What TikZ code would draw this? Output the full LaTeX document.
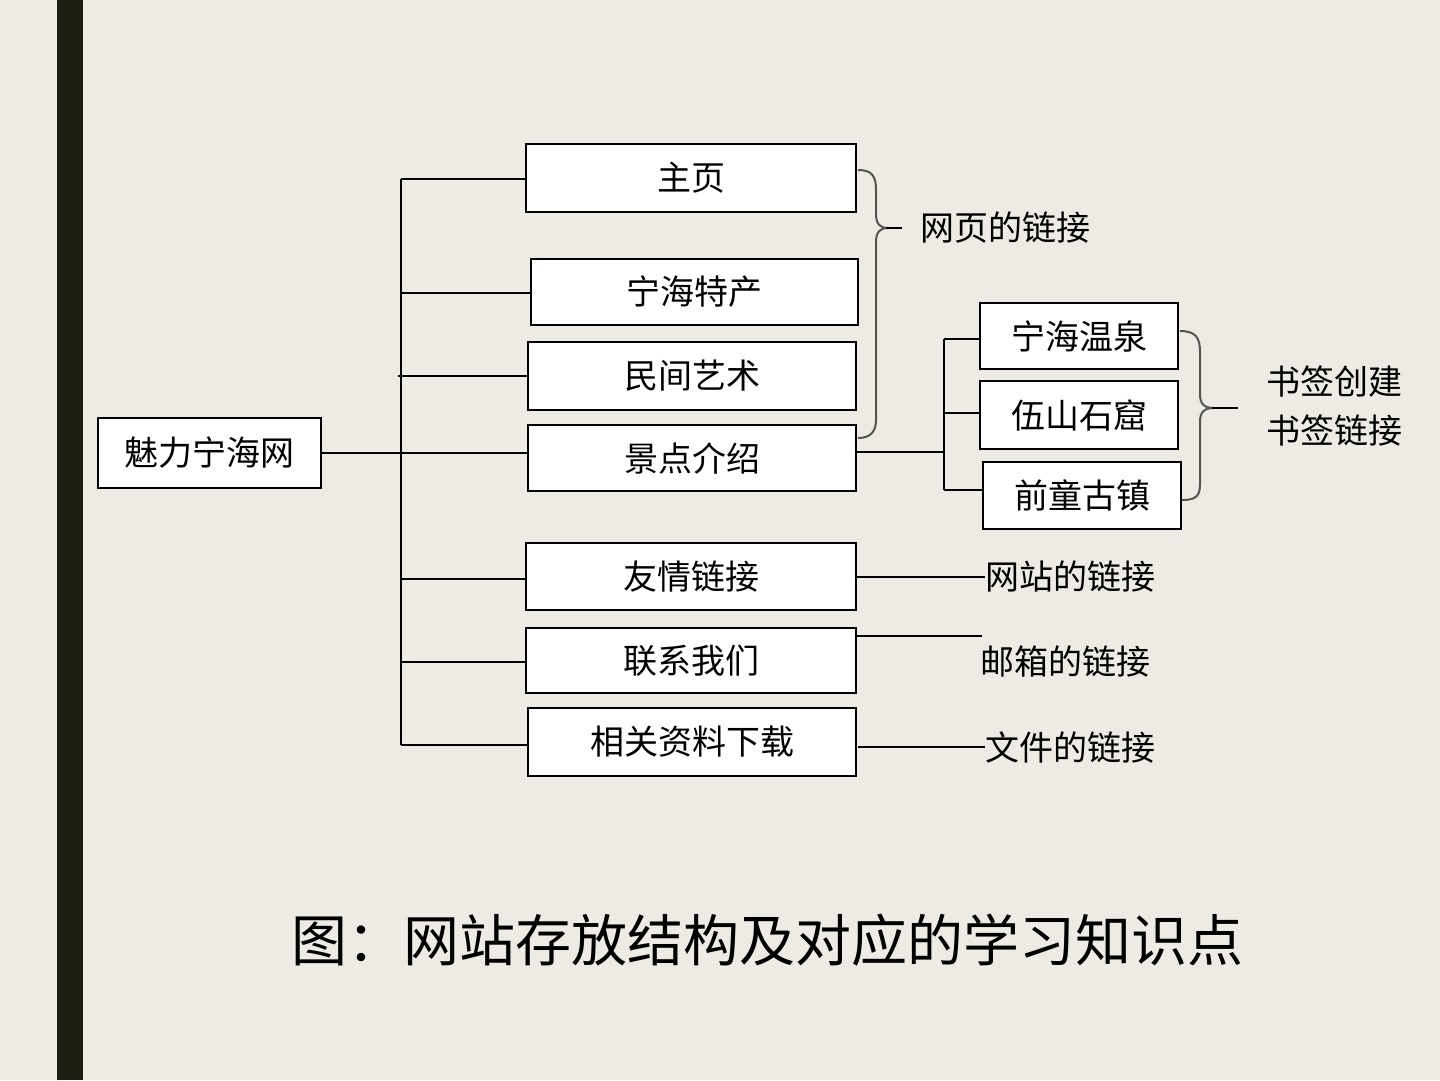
\documentclass[tikz,border=0pt]{standalone}
\usepackage{fontspec}
\newfontfamily\cjk{Noto Sans CJK SC}
\definecolor{bg}{RGB}{237,235,228}
\definecolor{bar}{RGB}{28,28,16}
\definecolor{bracecol}{RGB}{85,85,80}
\begin{document}
\begin{tikzpicture}[x=1pt,y=-1pt,
  box/.style={draw=black,line width=2.6pt,fill=white,inner sep=0pt,font=\cjk\fontsize{34}{34}\selectfont},
  lbl/.style={anchor=west,inner sep=0pt,font=\cjk\fontsize{34}{34}\selectfont},
  conn/.style={draw=black,line width=2.4pt},
  thin/.style={draw=black,line width=2pt},
  bracestyle/.style={draw=bracecol,line width=2pt}]
\fill[bg] (0,0) rectangle (1440,1080);
\useasboundingbox (0,0) rectangle (1440,1080);
\fill[bar] (57,0) rectangle (83,1080);

% nodes
\node[box,minimum width=223,minimum height=70] (root) at (209.5,453) {魅力宁海网};
\node[box,minimum width=330,minimum height=68] (home) at (691,178) {主页};
\node[box,minimum width=327,minimum height=66] (spec) at (694.5,292) {宁海特产};
\node[box,minimum width=328,minimum height=68] (art) at (692,376) {民间艺术};
\node[box,minimum width=328,minimum height=66] (scen) at (692,458) {景点介绍};
\node[box,minimum width=330,minimum height=67] (friend) at (691,576.5) {友情链接};
\node[box,minimum width=330,minimum height=65] (contact) at (691,660.5) {联系我们};
\node[box,minimum width=328,minimum height=68] (down) at (692,742) {相关资料下载};
\node[box,minimum width=198,minimum height=66] (spring) at (1079,336) {宁海温泉};
\node[box,minimum width=198,minimum height=68] (grotto) at (1079,415) {伍山石窟};
\node[box,minimum width=198,minimum height=67] (town) at (1082,495.5) {前童古镇};

% labels
\node[lbl] (webpage) at (920,228) {网页的链接};
\node[lbl] (bm1) at (1266,381) {书签创建};
\node[lbl] (bm2) at (1266,431) {书签链接};
\node[lbl] (site) at (985,577) {网站的链接};
\node[lbl] (mail) at (980,662) {邮箱的链接};
\node[lbl] (file) at (985,747) {文件的链接};

% trunk
\coordinate (ttop) at (401,179);
\coordinate (tbot) at (401,745);
\coordinate (sx) at (944,339);
\coordinate (sb) at (944,490);
\draw[conn] (ttop) -- (tbot);
\draw[conn] (root.east) -- (root.east -| ttop);
\draw[conn] (ttop) -- (home.west |- ttop);
\draw[thin] (spec.west |- 0,293) -- (401,293);
\draw[thin] (398,376) -- (art.west |- 0,376);
\draw[thin] (401,453) -- (scen.west |- 0,453);
\draw[thin] (401,579) -- (friend.west |- 0,579);
\draw[thin] (401,662) -- (contact.west |- 0,662);
\draw[conn] (tbot) -- (down.west |- tbot);

% sub tree
\draw[thin] (scen.east |- 0,452) -- (944,452);
\draw[conn] (sx) -- (sb);
\draw[conn] (sx) -- (spring.west |- sx);
\draw[thin] (944,413) -- (grotto.west |- 0,413);
\draw[thin] (sb) -- (town.west |- sb);

% right lines
\draw[thin] (friend.east |- site.west) -- (site.west);
\coordinate (mailend) at (982,636);
\draw[conn] (856,636) -- (mailend);
\draw[thin] (858,747) -- (file.west);

% braces
\draw[bracestyle] (858,170) .. controls (872,170) and (876,176) .. (876,190) -- (876,214) .. controls (876,224) and (880,228) .. (888,228);
\draw[bracestyle] (888,228) .. controls (880,228) and (876,232) .. (876,242) -- (876,420) .. controls (876,432) and (870,438) .. (858,438);
\draw[draw=black,line width=2.2pt] (886,228) -- (902,228);

\draw[bracestyle] (1180,331) .. controls (1196,331) and (1200,338) .. (1200,352) -- (1200,394) .. controls (1200,404) and (1204,408) .. (1214,408);
\draw[bracestyle] (1214,408) .. controls (1204,408) and (1200,412) .. (1200,422) -- (1200,484) .. controls (1200,496) and (1196,500) .. (1182,500);
\draw[draw=black,line width=2.2pt] (1212,408) -- (1238,408);

% title
\node[inner sep=0pt,font=\cjk\fontsize{56}{56}\selectfont] (title) at (767,940) {图：网站存放结构及对应的学习知识点};
\end{tikzpicture}
\end{document}
